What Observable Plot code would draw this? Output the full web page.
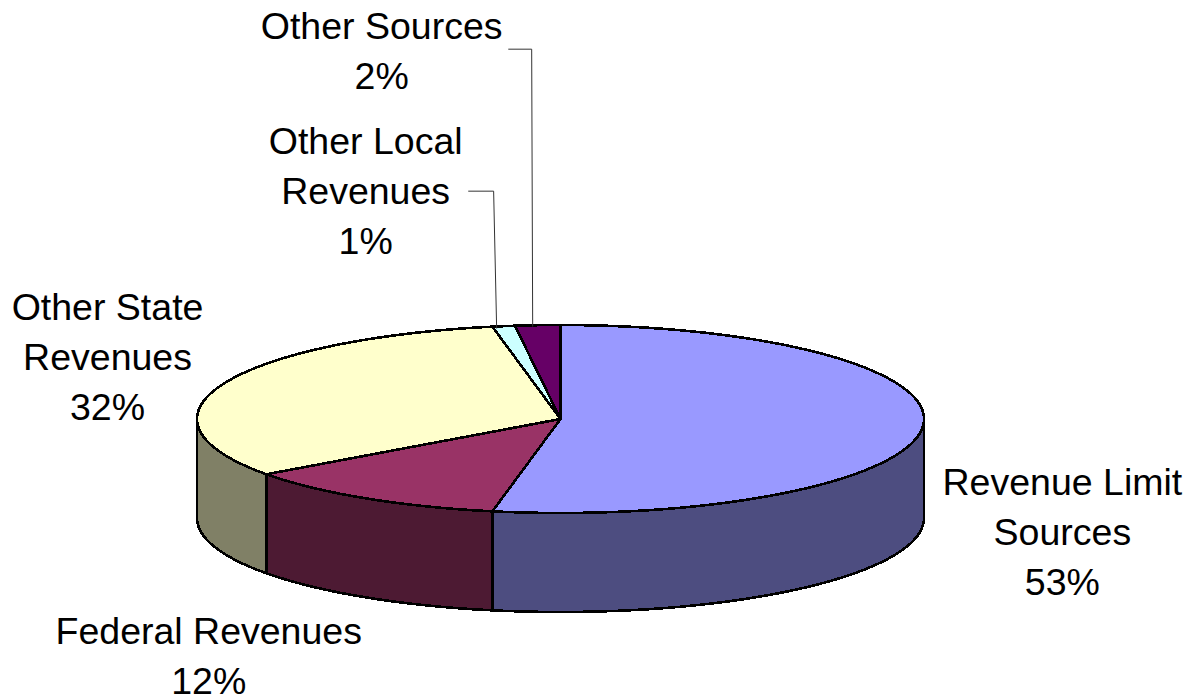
<!DOCTYPE html>
<html>
<head>
<meta charset="utf-8">
<style>
  html, body { margin: 0; padding: 0; background: #fff; }
  svg { display: block; }
</style>
<script src="https://cdn.jsdelivr.net/npm/d3@7"></script>
<script src="https://cdn.jsdelivr.net/npm/@observablehq/plot@0.6"></script>
</head>
<body>
<script>
// Revenue shares, in percent, clockwise from twelve o'clock.
const categories = ["Revenue Limit\nSources", "Federal Revenues", "Other State\nRevenues", "Other Local\nRevenues", "Other Sources"];
const shares = [53, 12, 32, 1, 2];
const topColors = ["#9999ff", "#993366", "#ffffcc", "#ccffff", "#660066"];
const sideColors = ["#4d4d80", "#4d1a33", "#808066", "#668080", "#330033"];

// Pie geometry, in chart units (one unit is one pixel, origin at the pie centre).
const rx = 363.5, ry = 94, depth = 99;
const width = 1190, height = 698, cx = 560, cy = 418.5;

// Label offsets from the rim midpoint of each slice.
const labelOffsets = [[140, 101], [-157, 155], [-115, -30], [-138, -138], [-156, -277]];
// Leader lines as offsets from the rim midpoint: rim end, elbow, tail.
const leaderOffsets = {3: [[-7, 2], [-10, -135], [-35, -135]], 4: [[-5, 1], [-6, -276], [-29, -276]]};

const rim = (t) => {
  const a = t / 100 * 2 * Math.PI;
  return {x: rx * Math.sin(a), y: -ry * Math.cos(a)};
};
const arc = (t0, t1) => {
  const n = Math.max(2, Math.ceil((t1 - t0) * 3));
  return d3.range(n + 1).map((i) => rim(t0 + (t1 - t0) * i / n));
};

const stops = d3.cumsum(shares);
const slices = shares.map((s, i) => ({i, t0: i ? stops[i - 1] : 0, t1: stops[i], mid: (i ? stops[i - 1] : 0) + s / 2}));

// Wedge tops: centre plus rim arc.
const tops = slices.flatMap(({i, t0, t1}) =>
  [{x: 0, y: 0}, ...arc(t0, t1)].map((p) => ({...p, slice: i})));

// Outer walls: only the part of the rim on the near side of the pie is visible.
const sides = slices.flatMap(({i, t0, t1}) => {
  const a = Math.max(t0, 25), b = Math.min(t1, 75);
  if (b <= a) return [];
  const upper = arc(a, b);
  const lower = upper.map((p) => ({x: p.x, y: p.y + depth})).reverse();
  return [...upper, ...lower].map((p) => ({...p, slice: i}));
});

const leaders = Object.entries(leaderOffsets).flatMap(([k, pts]) => {
  const c = rim(slices[k].mid);
  return pts.map(([dx, dy]) => ({x: c.x + dx, y: c.y + dy, slice: +k}));
});

const labels = slices.map(({i, mid}) =>
  Plot.text([{...rim(mid), label: `${categories[i]}\n${shares[i]}%`}], {
    x: "x", y: "y", text: "label",
    dx: labelOffsets[i][0], dy: labelOffsets[i][1],
    fill: "#000", fontSize: 37.5, lineHeight: 1.333, textAnchor: "middle", lineAnchor: "middle"
  }));

const plot = Plot.plot({
  width, height,
  margin: 0,
  x: {domain: [-cx, width - cx], range: [0, width], axis: null},
  y: {domain: [-cy, height - cy], range: [0, height], axis: null},
  style: {fontFamily: "'Liberation Sans', Arial, sans-serif", background: "#fff"},
  marks: [
    Plot.line(sides, {
      x: "x", y: "y", z: "slice", curve: "linear-closed",
      fill: (d) => sideColors[d.slice], stroke: "#000", strokeWidth: 2.6, strokeLinejoin: "round",
      shapeRendering: "crispEdges"
    }),
    Plot.line(tops, {
      x: "x", y: "y", z: "slice", curve: "linear-closed",
      fill: (d) => topColors[d.slice], stroke: "#000", strokeWidth: 2.6, strokeLinejoin: "round",
      shapeRendering: "crispEdges"
    }),
    Plot.line(leaders, {x: "x", y: "y", z: "slice", stroke: "#333", strokeWidth: 1}),
    ...labels
  ]
});
document.body.appendChild(plot);
</script>
</body>
</html>
